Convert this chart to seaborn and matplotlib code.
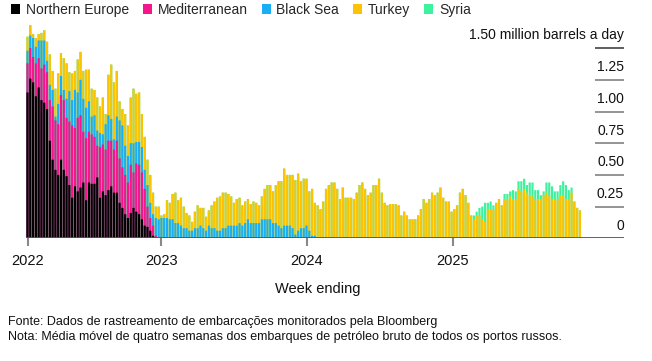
import pandas as pd
import numpy as np
import matplotlib
matplotlib.use('Agg')
import matplotlib.pyplot as plt
import seaborn as sns
from matplotlib.patches import Patch

# ── Data: four-week average of Russian crude shipments (million b/d) ─────────
week_ending = pd.date_range('2022-01-30', periods=199, freq='W-SUN')

northern_europe = [
    1.15, 1.26, 1.23, 1.12, 1.19, 1.09, 1.07, 1.02, 0.77, 0.62,
    0.54, 0.50, 0.62, 0.54, 0.49, 0.42, 0.32, 0.41, 0.37, 0.40,
    0.44, 0.30, 0.44, 0.43, 0.43, 0.48, 0.32, 0.37, 0.34, 0.38,
    0.41, 0.36,
    0.36, 0.28, 0.24, 0.19, 0.16, 0.20, 0.24, 0.21, 0.19, 0.15,
    0.10, 0.09, 0.06, 0.02,
] + [0.0] * 153

mediterranean = [
    0.23, 0.24, 0.20, 0.26, 0.23, 0.25, 0.30, 0.29, 0.32, 0.42,
    0.39, 0.40, 0.51, 0.55, 0.46, 0.50, 0.57, 0.46, 0.58, 0.57,
    0.40, 0.49, 0.40, 0.39, 0.37, 0.25, 0.40, 0.37, 0.36, 0.39,
    0.36, 0.34,
    0.41, 0.35, 0.32, 0.31, 0.28, 0.38, 0.28, 0.38, 0.39, 0.37,
    0.29, 0.16, 0.10, 0.08, 0.02,
] + [0.0] * 152

black_sea = [
    0.10, 0.10, 0.15, 0.13, 0.14, 0.22, 0.19, 0.09, 0.12, 0.13,
    0.03, 0.16, 0.15, 0.08, 0.15, 0.24, 0.20, 0.30, 0.20, 0.28,
    0.26, 0.24, 0.24, 0.14, 0.17, 0.12, 0.11, 0.08, 0.20, 0.20,
    0.17, 0.08,
    0.19, 0.30, 0.33, 0.23, 0.21, 0.17, 0.23, 0.17, 0.18, 0.20,
    0.15, 0.17, 0.12, 0.09, 0.14, 0.15, 0.16, 0.16, 0.16, 0.15,
    0.15, 0.12, 0.12, 0.10, 0.08, 0.08, 0.06, 0.06, 0.08, 0.08,
    0.10, 0.08, 0.06, 0.10,
    0.08, 0.08, 0.06, 0.06, 0.08, 0.08, 0.10, 0.10, 0.10, 0.10,
    0.12, 0.10, 0.12, 0.15, 0.12, 0.12, 0.12, 0.12, 0.15, 0.15,
    0.15, 0.15, 0.12, 0.12, 0.10, 0.08, 0.10, 0.10, 0.10, 0.08,
    0.03, 0.06, 0.08, 0.08,
    0.10, 0.06, 0.02, 0.02,
] + [0.0] * 95

turkey = [
    0.11, 0.08, 0.03, 0.07, 0.05, 0.06, 0.08, 0.15, 0.24, 0.15,
    0.22, 0.24, 0.18, 0.25, 0.28, 0.15, 0.21, 0.15, 0.26, 0.22,
    0.22, 0.30, 0.25, 0.22, 0.20, 0.26, 0.21, 0.29, 0.08, 0.32,
    0.43, 0.45,
    0.36, 0.15, 0.13, 0.25, 0.24, 0.36, 0.43, 0.38, 0.39, 0.26,
    0.26, 0.20, 0.22, 0.17, 0.09, 0.10, 0.02, 0.03, 0.14, 0.13,
    0.20, 0.24, 0.18, 0.22, 0.17, 0.12, 0.12, 0.07, 0.13, 0.18,
    0.14, 0.16, 0.11, 0.12,
    0.18, 0.21, 0.26, 0.27, 0.28, 0.28, 0.25, 0.23, 0.18, 0.21,
    0.20, 0.16, 0.17, 0.16, 0.15, 0.17, 0.16, 0.14, 0.18, 0.24,
    0.27, 0.27, 0.25, 0.30, 0.35, 0.37, 0.45, 0.40, 0.40, 0.42,
    0.43, 0.45, 0.37, 0.39,
    0.37, 0.31, 0.37, 0.26, 0.26, 0.23, 0.29, 0.39, 0.42, 0.44,
    0.44, 0.39, 0.31, 0.40, 0.32, 0.32, 0.32, 0.31, 0.36, 0.42,
    0.44, 0.39, 0.34, 0.36, 0.42, 0.42, 0.47, 0.36, 0.28, 0.26,
    0.27, 0.27, 0.27, 0.26,
    0.18, 0.21, 0.18, 0.15, 0.15, 0.15, 0.18, 0.23, 0.31, 0.28,
    0.31, 0.36, 0.34, 0.36, 0.40, 0.32, 0.29, 0.29, 0.21, 0.23,
    0.26, 0.36, 0.39, 0.34, 0.28, 0.18, 0.15, 0.18, 0.18, 0.15,
    0.13, 0.23, 0.23, 0.23,
    0.28, 0.31, 0.26, 0.31, 0.31, 0.33, 0.31, 0.31, 0.39, 0.37,
    0.39, 0.36, 0.34, 0.33, 0.31, 0.31, 0.31, 0.34, 0.36, 0.34,
    0.31, 0.31, 0.31, 0.34, 0.34, 0.31, 0.31, 0.36, 0.29, 0.24,
    0.22,
]

syria = [0.0] * 160 + [
    0.03, 0.03, 0.06, 0.10, 0.15, 0.05, 0.06, 0.03,
    0.0, 0.0, 0.0, 0.04, 0.04, 0.04, 0.07, 0.06, 0.06, 0.08,
    0.08, 0.06, 0.10, 0.11, 0.07, 0.07, 0.03, 0.03, 0.08, 0.10,
    0.10, 0.06, 0.06, 0.08, 0.11, 0.11, 0.07, 0.04, 0.0, 0.0,
    0.0,
]

regions = ['Northern Europe', 'Mediterranean', 'Black Sea', 'Turkey', 'Syria']
colors = ['#000000', '#f5168e', '#1aaef5', '#fdc303', '#3df29c']
years = [2022, 2023, 2024, 2025]
y_ticks = [0, 0.25, 0.50, 0.75, 1.00, 1.25, 1.50]
y_labels = ['0', '0.25', '0.50', '0.75', '1.00', '1.25', '1.50 million barrels a day']

df = pd.DataFrame({
    'week_ending': week_ending,
    'Northern Europe': northern_europe,
    'Mediterranean': mediterranean,
    'Black Sea': black_sea,
    'Turkey': turkey,
    'Syria': syria,
})
df['idx'] = np.arange(len(df))
tops = df[regions].cumsum(axis=1)

# ── Plot ────────────────────────────────────────────────────────────────────
sns.set_theme(style='white')
plt.rcParams['font.family'] = ['Liberation Sans', 'DejaVu Sans']

fig = plt.figure(figsize=(6.52, 3.61), dpi=100)
ax = fig.add_axes([26 / 652, 1 - 238.3 / 361, 598 / 652, 1.72 * 126.8 / 361])

# stacked bars: draw cumulative totals from the top layer down
for region, color in zip(regions[::-1], colors[::-1]):
    sns.barplot(x=df['idx'], y=tops[region], color=color, saturation=1,
                width=0.78, errorbar=None, linewidth=0, ax=ax)
for p in ax.patches:
    p.set_snap(False)

x_right = 213.8
x_grid = (595 - 27.5) / 2.79
ax.set_xlim(-0.54, x_right)
ax.set_ylim(0, 1.72)

for yv, lab in zip(y_ticks, y_labels):
    if yv == 0:
        ax.axhline(0, color='#555555', lw=1.3, zorder=5)
    else:
        ax.hlines(yv, x_grid, x_right, color='#333333' if yv == 1.5 else '#777777',
                  lw=1.1, zorder=5)
    ax.text(x_right, yv + 0.1, lab, ha='right', va='center', fontsize=10,
            color='#111111')

start = df['week_ending'].iloc[0]
tick_pos = [0] + [(pd.Timestamp(f'{y}-01-01') - start).days / 7 for y in years[1:]]
ax.set_xticks(tick_pos)
ax.set_xticklabels([str(y) for y in years], fontsize=10.5, color='#111111')
ax.tick_params(axis='x', bottom=True, length=5.5, width=1.5, color='#888888', pad=6)
ax.tick_params(axis='y', left=False, labelleft=False)
ax.set_xlabel('')
ax.set_ylabel('')
for s in ax.spines.values():
    s.set_visible(False)

handles = [Patch(facecolor=c, edgecolor='none') for c in colors]
fig.legend(handles, regions, loc='upper left', bbox_to_anchor=(11 / 652, 1 - 3 / 361),
           ncol=5, frameon=False, handlelength=0.65, handleheight=0.65,
           handletextpad=0.42, columnspacing=1.0, fontsize=10, borderaxespad=0,
           borderpad=0)

fig.text(318 / 652, 1 - 289 / 361, 'Week ending', ha='center', va='center',
         fontsize=10.5, color='#111111')
fig.text(8 / 652, 1 - 322 / 361,
         'Fonte: Dados de rastreamento de embarcações monitorados pela Bloomberg',
         ha='left', va='center', fontsize=9, color='#111111')
fig.text(8 / 652, 1 - 337 / 361,
         'Nota: Média móvel de quatro semanas dos embarques de petróleo bruto de todos os portos russos.',
         ha='left', va='center', fontsize=9, color='#111111')

plt.savefig('out.png', dpi=100)
plt.close()
